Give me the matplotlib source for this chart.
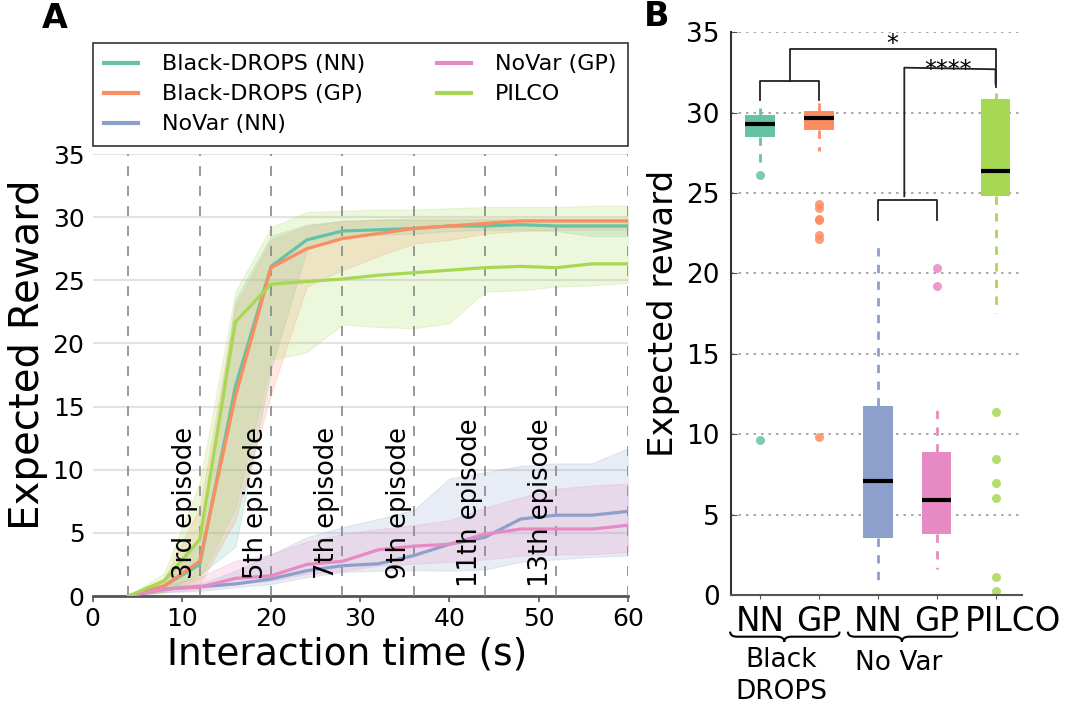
import numpy as np
import matplotlib
matplotlib.use('Agg')
import matplotlib.pyplot as plt
from matplotlib.path import Path
from matplotlib.patches import PathPatch
import matplotlib.transforms as mtransforms

plt.rcParams['font.family'] = ['DejaVu Sans']

# ---------------- Panel A data ----------------
time_s = [4, 8, 12, 16, 20, 24, 28, 32, 36, 40, 44, 48, 52, 56, 60]

bd_nn_mean = [0, 0.8, 2.5, 16.6, 26.1, 28.2, 28.9, 29.0, 29.1, 29.3, 29.3, 29.4, 29.3, 29.3, 29.3]
bd_nn_low = [0, 0.4, 1.7, 3.9, 18.0, 27.4, 28.5, 28.6, 28.7, 28.9, 29.0, 29.0, 28.9, 28.5, 28.5]
bd_nn_high = [0, 1.2, 4.4, 23.5, 28.5, 29.4, 29.7, 29.8, 29.8, 29.8, 29.8, 29.8, 29.8, 29.8, 29.8]

bd_gp_mean = [0, 0.8, 2.75, 15.8, 26.0, 27.5, 28.3, 28.7, 29.1, 29.3, 29.5, 29.7, 29.7, 29.7, 29.7]
bd_gp_low = [0, 0.4, 0.95, 6.0, 16.0, 24.5, 25.8, 26.9, 27.9, 28.2, 28.7, 28.9, 29.0, 29.0, 29.0]
bd_gp_high = [0, 1.4, 7.0, 23.0, 28.2, 29.3, 29.7, 29.8, 29.9, 29.9, 29.9, 29.9, 29.9, 29.9, 29.9]

novar_nn_mean = [0, 0.55, 0.75, 0.95, 1.35, 2.0, 2.4, 2.55, 3.2, 4.1, 4.65, 6.1, 6.4, 6.4, 6.7]
novar_nn_low = [0, 0.3, 0.4, 0.7, 0.95, 1.5, 1.9, 2.0, 2.05, 2.0, 2.1, 2.7, 2.9, 3.1, 3.2]
novar_nn_high = [0, 0.7, 0.95, 2.0, 3.3, 4.65, 5.45, 6.1, 6.8, 9.3, 9.8, 10.3, 10.5, 10.5, 11.7]

novar_gp_mean = [0, 0.55, 0.7, 1.4, 1.6, 2.5, 2.75, 3.65, 3.95, 4.1, 4.9, 5.3, 5.3, 5.3, 5.6]
novar_gp_low = [0, 0.3, 0.55, 0.95, 1.2, 1.75, 2.0, 2.4, 2.55, 2.7, 2.9, 3.2, 3.3, 3.3, 3.5]
novar_gp_high = [0, 0.8, 1.5, 2.8, 3.3, 4.3, 4.9, 5.3, 5.6, 6.0, 7.0, 7.8, 8.5, 8.75, 8.9]

pilco_mean = [0, 1.2, 4.5, 21.7, 24.7, 24.9, 25.1, 25.4, 25.6, 25.8, 26.0, 26.1, 26.0, 26.3, 26.3]
pilco_low = [0, 0.3, 1.35, 7.0, 18.7, 19.3, 21.5, 21.3, 21.2, 21.6, 24.1, 24.2, 24.5, 24.6, 24.8]
pilco_high = [0, 1.8, 9.0, 24.1, 29.2, 30.4, 30.5, 30.6, 30.6, 30.7, 30.8, 30.8, 30.8, 30.9, 30.9]

series_names = ['Black-DROPS (NN)', 'Black-DROPS (GP)', 'NoVar (NN)', 'NoVar (GP)', 'PILCO']
series_colors = ['#66c2a5', '#fc8d62', '#8da0cb', '#e78ac3', '#a6d854']

episode_lines = [4, 12, 20, 28, 36, 44, 52, 60]
episode_label_times = [12, 20, 28, 36, 44, 52]
episode_labels = ['3rd episode', '5th episode', '7th episode', '9th episode',
                  '11th episode', '13th episode']

# ---------------- Panel B data ----------------
box_labels = ['NN', 'GP', 'NN', 'GP', 'PILCO']
box_colors = ['#66c2a5', '#fc8d62', '#8da0cb', '#e78ac3', '#a6d854']
box_med = [29.3, 29.67, 7.06, 5.88, 26.4]
box_q1 = [28.5, 28.92, 3.57, 3.77, 24.82]
box_q3 = [29.85, 30.1, 11.75, 8.91, 30.84]
box_whislo = [26.7, 27.6, 0.84, 1.6, 17.57]
box_whishi = [30.27, 30.58, 21.8, 12.0, 31.2]
box_fliers = [[26.1, 9.64],
              [24.3, 24.1, 23.4, 23.3, 22.4, 22.15, 9.84],
              [],
              [20.35, 19.23],
              [11.39, 8.49, 6.94, 6.02, 1.12, 0.25]]
group_labels = ['Black\nDROPS', 'No Var']
sig_labels = ['*', '****']

# ---------------- Figure ----------------
fig = plt.figure(figsize=(10.65, 7.13), dpi=100)
W, H = 1065.0, 713.0

axA = fig.add_axes([92.8 / W, 1 - 596 / H, 534.9 / W, 442 / H])
axB = fig.add_axes([730.7 / W, 1 - 595 / H, 291.3 / W, 562.7 / H])

# ---- Panel A ----
means = [bd_nn_mean, bd_gp_mean, novar_nn_mean, novar_gp_mean, pilco_mean]
lows = [bd_nn_low, bd_gp_low, novar_nn_low, novar_gp_low, pilco_low]
highs = [bd_nn_high, bd_gp_high, novar_nn_high, novar_gp_high, pilco_high]

for lo, hi, c in zip(lows, highs, series_colors):
    axA.fill_between(time_s, lo, hi, color=c, alpha=0.2, lw=0.8, zorder=2)

for x in episode_lines:
    axA.axvline(x, color='#888888', lw=1.2, ls=(0, (6, 6)), zorder=3)

handles = []
for m, c, n in zip(means, series_colors, series_names):
    h, = axA.plot(time_s, m, color=c, lw=2.3, label=n, zorder=4)
    handles.append(h)

for t, lab in zip(episode_label_times, episode_labels):
    axA.text(t - 1.7, 7.4, lab, rotation=90, ha='center', va='center',
             fontsize=18.5, zorder=5)

axA.set_xlim(0, 60)
axA.set_ylim(0, 35)
axA.set_xticks(np.arange(0, 61, 10))
axA.set_yticks(np.arange(0, 36, 5))
axA.yaxis.grid(True, color='#e3e3e3', lw=1.5, zorder=0)
axA.set_axisbelow(True)
for s in ['top', 'right', 'left']:
    axA.spines[s].set_visible(False)
axA.spines['bottom'].set_color('#555555')
axA.spines['bottom'].set_linewidth(2)
axA.tick_params(axis='x', labelsize=18, length=4, color='#555555', width=1.2, pad=4)
axA.tick_params(axis='y', labelsize=18, length=0, pad=6)
axA.set_xlabel('Interaction time (s)', fontsize=27)
axA.xaxis.set_label_coords(0.475, -0.133)
axA.xaxis.label.set_va('center')
axA.set_ylabel('Expected Reward', fontsize=29)
axA.yaxis.set_label_coords(-0.121, 0.545)
axA.yaxis.label.set_va('center')

leg = fig.legend(handles=handles, ncol=2, loc='upper left',
                 bbox_to_anchor=(93.3 / W, 1 - 43.3 / H - 0.01, 534.4 / W, 0.01),
                 mode='expand', fontsize=16, frameon=True, fancybox=False,
                 handlelength=1.5, handletextpad=1.1, labelspacing=0.45,
                 borderpad=0.5, borderaxespad=0)
leg.get_frame().set_edgecolor('black')
leg.get_frame().set_linewidth(1.2)
for lh in leg.get_lines():
    lh.set_linewidth(3)

fig.text(55 / W, 1 - 18 / H, 'A', fontsize=24, fontweight='bold',
         ha='center', va='center')
fig.text(657 / W, 1 - 17 / H, 'B', fontsize=24, fontweight='bold',
         ha='center', va='center')

# ---- Panel B ----
positions = [1, 2, 3, 4, 5]
stats = []
for i in range(5):
    stats.append(dict(med=box_med[i], q1=box_q1[i], q3=box_q3[i],
                      whislo=box_whislo[i], whishi=box_whishi[i],
                      fliers=box_fliers[i], label=box_labels[i]))

bp = axB.bxp(stats, positions=positions, widths=0.5, patch_artist=True,
             showcaps=False, showfliers=True,
             boxprops=dict(linewidth=0),
             medianprops=dict(color='black', linewidth=3),
             whiskerprops=dict(linewidth=2, linestyle=(0, (3, 3))),
             flierprops=dict(marker='o', markersize=6.5, markeredgewidth=0))
for i, c in enumerate(box_colors):
    bp['boxes'][i].set_facecolor(c)
    bp['boxes'][i].set_zorder(3)
    bp['medians'][i].set_zorder(4)
    for w in bp['whiskers'][2 * i:2 * i + 2]:
        w.set_color(c)
    bp['fliers'][i].set_markerfacecolor(c)
    bp['fliers'][i].set_alpha(0.85)

axB.set_xlim(0.5, 5.45)
axB.set_ylim(0, 35)
axB.set_yticks(np.arange(0, 36, 5))
axB.set_xticks(positions)
axB.set_xticklabels(box_labels)
axB.yaxis.grid(True, linestyle=(0, (1.5, 3)), color='#999999', lw=1.2, zorder=0)
axB.set_axisbelow(True)
for s in ['top', 'right']:
    axB.spines[s].set_visible(False)
axB.spines['left'].set_color('#333333')
axB.spines['left'].set_linewidth(1.5)
axB.spines['bottom'].set_color('#555555')
axB.spines['bottom'].set_linewidth(1.5)
axB.tick_params(axis='y', labelsize=19, length=4, direction='in', pad=8, color='#555555')
axB.tick_params(axis='x', labelsize=23.5, length=3, color='#555555', pad=4)
# shift the last label right, as in the reference
last = axB.get_xticklabels()[-1]
last.set_transform(last.get_transform() +
                   mtransforms.ScaledTranslation(17 / 100, 0, fig.dpi_scale_trans))
axB.set_ylabel('Expected reward', fontsize=24.5)
axB.yaxis.set_label_coords(-0.232, 0.5)
axB.yaxis.label.set_va('center')

# significance brackets
bk = dict(color='#222222', lw=1.3, clip_on=False, zorder=5)
axB.plot([1, 1, 2, 2], [30.8, 32.0, 32.0, 30.8], **bk)
axB.plot([1.5, 1.5, 5, 5], [32.0, 33.94, 33.94, 31.6], **bk)
axB.plot([3, 3, 4, 4], [23.3, 24.6, 24.6, 23.3], **bk)
axB.plot([3.45, 3.45, 5, 5], [24.8, 32.8, 32.7, 31.8], **bk)
axB.text(3.24, 33.85, sig_labels[0], fontsize=17, ha='center', va='baseline')
axB.text(4.19, 32.2, sig_labels[1], fontsize=17, ha='center', va='baseline')

# curly braces under grouped tick labels
trans = mtransforms.blended_transform_factory(axB.transData, axB.transAxes)


def brace(x0, x1, xm, y, h, d=0.12):
    verts = [(x0, y + h), (x0, y), (x0 + d, y),
             (xm - d, y),
             (xm, y), (xm, y - h),
             (xm, y), (xm + d, y),
             (x1 - d, y),
             (x1, y), (x1, y + h)]
    codes = [Path.MOVETO, Path.CURVE3, Path.CURVE3,
             Path.LINETO,
             Path.CURVE3, Path.CURVE3,
             Path.CURVE3, Path.CURVE3,
             Path.LINETO,
             Path.CURVE3, Path.CURVE3]
    axB.add_patch(PathPatch(Path(verts, codes), fill=False, lw=1.5,
                            edgecolor='black', transform=trans, clip_on=False))


brace(0.49, 2.35, 1.41, -0.0741, 0.009)
brace(2.49, 4.35, 3.41, -0.0741, 0.009)
axB.text(1.36, -0.144, group_labels[0], transform=trans, fontsize=19,
         ha='center', va='center', linespacing=1.3)
axB.text(3.36, -0.121, group_labels[1], transform=trans, fontsize=19,
         ha='center', va='center')

fig.savefig('out.png', dpi=100)
